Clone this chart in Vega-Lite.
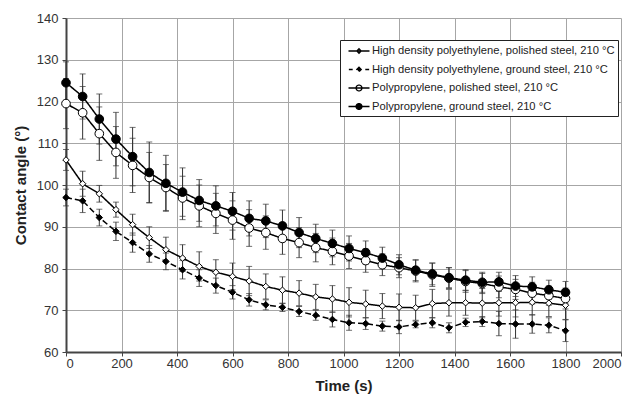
{
  "$schema": "https://vega.github.io/schema/vega-lite/v6.json",
  "width": 555,
  "height": 334,
  "autosize": {"type": "none"},
  "padding": {"left": 66, "top": 18, "right": 19, "bottom": 49},
  "background": "white",
  "config": {
    "view": {"stroke": null},
    "font": "Liberation Sans",
    "axis": {
      "labelFont": "Liberation Sans",
      "labelFontSize": 13,
      "labelColor": "#333",
      "titleFont": "Liberation Sans",
      "titleFontSize": 15,
      "titleFontWeight": "bold",
      "titleColor": "#222",
      "domainColor": "#444",
      "domainWidth": 2,
      "tickColor": "#444",
      "tickSize": 4,
      "gridColor": "#a6a6a6",
      "gridWidth": 1,
      "gridOpacity": 1
    }
  },
  "data": {
    "values": [
      {"t": 0, "s": "hp", "v": 106.0, "e": 2.5}, {"t": 60, "s": "hp", "v": 100.3, "e": 3.0}, {"t": 120, "s": "hp", "v": 97.9, "e": 2.0}, {"t": 180, "s": "hp", "v": 94.1, "e": 1.8}, {"t": 240, "s": "hp", "v": 90.5, "e": 2.5}, {"t": 300, "s": "hp", "v": 87.4, "e": 2.6}, {"t": 360, "s": "hp", "v": 84.5, "e": 3.0}, {"t": 420, "s": "hp", "v": 82.5, "e": 3.2}, {"t": 480, "s": "hp", "v": 80.5, "e": 3.5}, {"t": 540, "s": "hp", "v": 79.1, "e": 3.0}, {"t": 600, "s": "hp", "v": 78.1, "e": 3.2}, {"t": 660, "s": "hp", "v": 77.0, "e": 3.5}, {"t": 720, "s": "hp", "v": 75.7, "e": 3.0}, {"t": 780, "s": "hp", "v": 74.8, "e": 3.2}, {"t": 840, "s": "hp", "v": 74.1, "e": 3.0}, {"t": 900, "s": "hp", "v": 73.2, "e": 3.0}, {"t": 960, "s": "hp", "v": 72.7, "e": 3.2}, {"t": 1020, "s": "hp", "v": 71.9, "e": 3.5}, {"t": 1080, "s": "hp", "v": 71.5, "e": 3.3}, {"t": 1140, "s": "hp", "v": 71.0, "e": 3.0}, {"t": 1200, "s": "hp", "v": 70.7, "e": 3.2}, {"t": 1260, "s": "hp", "v": 70.6, "e": 3.0}, {"t": 1320, "s": "hp", "v": 71.6, "e": 3.4}, {"t": 1380, "s": "hp", "v": 71.8, "e": 3.2}, {"t": 1440, "s": "hp", "v": 71.8, "e": 3.0}, {"t": 1500, "s": "hp", "v": 71.7, "e": 3.5}, {"t": 1560, "s": "hp", "v": 71.8, "e": 3.2}, {"t": 1620, "s": "hp", "v": 71.8, "e": 3.4}, {"t": 1680, "s": "hp", "v": 71.9, "e": 3.0}, {"t": 1740, "s": "hp", "v": 71.7, "e": 3.2}, {"t": 1800, "s": "hp", "v": 71.2, "e": 3.4},
      {"t": 0, "s": "hg", "v": 97.0, "e": 2.0}, {"t": 60, "s": "hg", "v": 96.2, "e": 2.8}, {"t": 120, "s": "hg", "v": 92.2, "e": 2.0}, {"t": 180, "s": "hg", "v": 88.9, "e": 2.2}, {"t": 240, "s": "hg", "v": 86.2, "e": 2.3}, {"t": 300, "s": "hg", "v": 83.5, "e": 2.0}, {"t": 360, "s": "hg", "v": 81.7, "e": 2.0}, {"t": 420, "s": "hg", "v": 79.7, "e": 2.2}, {"t": 480, "s": "hg", "v": 77.7, "e": 2.0}, {"t": 540, "s": "hg", "v": 75.9, "e": 1.8}, {"t": 600, "s": "hg", "v": 74.3, "e": 1.6}, {"t": 660, "s": "hg", "v": 72.5, "e": 1.5}, {"t": 720, "s": "hg", "v": 71.3, "e": 1.2}, {"t": 780, "s": "hg", "v": 70.7, "e": 1.0}, {"t": 840, "s": "hg", "v": 69.7, "e": 1.2}, {"t": 900, "s": "hg", "v": 68.8, "e": 1.2}, {"t": 960, "s": "hg", "v": 67.8, "e": 1.8}, {"t": 1020, "s": "hg", "v": 67.0, "e": 1.8}, {"t": 1080, "s": "hg", "v": 66.8, "e": 1.4}, {"t": 1140, "s": "hg", "v": 66.2, "e": 1.2}, {"t": 1200, "s": "hg", "v": 66.0, "e": 1.6}, {"t": 1260, "s": "hg", "v": 66.6, "e": 0.8}, {"t": 1320, "s": "hg", "v": 67.0, "e": 1.2}, {"t": 1380, "s": "hg", "v": 65.8, "e": 1.2}, {"t": 1440, "s": "hg", "v": 67.1, "e": 1.0}, {"t": 1500, "s": "hg", "v": 67.3, "e": 1.2}, {"t": 1560, "s": "hg", "v": 66.8, "e": 2.9}, {"t": 1620, "s": "hg", "v": 66.7, "e": 3.4}, {"t": 1680, "s": "hg", "v": 66.7, "e": 2.2}, {"t": 1740, "s": "hg", "v": 66.4, "e": 1.8}, {"t": 1800, "s": "hg", "v": 65.1, "e": 2.6},
      {"t": 0, "s": "pp", "v": 119.5, "e": 6.0}, {"t": 60, "s": "pp", "v": 117.3, "e": 6.3}, {"t": 120, "s": "pp", "v": 112.3, "e": 6.4}, {"t": 180, "s": "pp", "v": 107.8, "e": 6.2}, {"t": 240, "s": "pp", "v": 104.7, "e": 6.5}, {"t": 300, "s": "pp", "v": 101.8, "e": 6.0}, {"t": 360, "s": "pp", "v": 99.4, "e": 5.5}, {"t": 420, "s": "pp", "v": 96.9, "e": 5.2}, {"t": 480, "s": "pp", "v": 95.0, "e": 5.0}, {"t": 540, "s": "pp", "v": 93.2, "e": 4.8}, {"t": 600, "s": "pp", "v": 91.6, "e": 4.6}, {"t": 660, "s": "pp", "v": 89.7, "e": 4.4}, {"t": 720, "s": "pp", "v": 88.6, "e": 4.0}, {"t": 780, "s": "pp", "v": 87.2, "e": 3.8}, {"t": 840, "s": "pp", "v": 86.2, "e": 3.6}, {"t": 900, "s": "pp", "v": 85.0, "e": 3.4}, {"t": 960, "s": "pp", "v": 84.1, "e": 3.2}, {"t": 1020, "s": "pp", "v": 83.0, "e": 3.0}, {"t": 1080, "s": "pp", "v": 81.9, "e": 2.8}, {"t": 1140, "s": "pp", "v": 80.9, "e": 2.6}, {"t": 1200, "s": "pp", "v": 80.2, "e": 2.4}, {"t": 1260, "s": "pp", "v": 79.4, "e": 2.6}, {"t": 1320, "s": "pp", "v": 78.5, "e": 2.8}, {"t": 1380, "s": "pp", "v": 77.7, "e": 2.5}, {"t": 1440, "s": "pp", "v": 76.9, "e": 2.6}, {"t": 1500, "s": "pp", "v": 76.4, "e": 2.4}, {"t": 1560, "s": "pp", "v": 75.6, "e": 2.6}, {"t": 1620, "s": "pp", "v": 75.0, "e": 2.4}, {"t": 1680, "s": "pp", "v": 74.1, "e": 2.6}, {"t": 1740, "s": "pp", "v": 73.5, "e": 2.3}, {"t": 1800, "s": "pp", "v": 72.8, "e": 2.5},
      {"t": 0, "s": "pg", "v": 124.5, "e": 5.0}, {"t": 60, "s": "pg", "v": 121.2, "e": 5.4}, {"t": 120, "s": "pg", "v": 115.8, "e": 6.0}, {"t": 180, "s": "pg", "v": 111.0, "e": 6.4}, {"t": 240, "s": "pg", "v": 106.8, "e": 7.0}, {"t": 300, "s": "pg", "v": 103.0, "e": 7.3}, {"t": 360, "s": "pg", "v": 100.4, "e": 6.7}, {"t": 420, "s": "pg", "v": 98.3, "e": 5.8}, {"t": 480, "s": "pg", "v": 96.3, "e": 5.0}, {"t": 540, "s": "pg", "v": 95.0, "e": 4.8}, {"t": 600, "s": "pg", "v": 93.7, "e": 4.5}, {"t": 660, "s": "pg", "v": 92.0, "e": 4.2}, {"t": 720, "s": "pg", "v": 91.4, "e": 4.0}, {"t": 780, "s": "pg", "v": 90.2, "e": 3.8}, {"t": 840, "s": "pg", "v": 88.6, "e": 3.6}, {"t": 900, "s": "pg", "v": 87.2, "e": 3.4}, {"t": 960, "s": "pg", "v": 86.0, "e": 3.2}, {"t": 1020, "s": "pg", "v": 84.8, "e": 3.0}, {"t": 1080, "s": "pg", "v": 83.8, "e": 2.8}, {"t": 1140, "s": "pg", "v": 82.5, "e": 2.6}, {"t": 1200, "s": "pg", "v": 80.9, "e": 2.4}, {"t": 1260, "s": "pg", "v": 79.6, "e": 2.5}, {"t": 1320, "s": "pg", "v": 78.7, "e": 2.6}, {"t": 1380, "s": "pg", "v": 77.8, "e": 2.4}, {"t": 1440, "s": "pg", "v": 77.2, "e": 2.5}, {"t": 1500, "s": "pg", "v": 76.7, "e": 2.4}, {"t": 1560, "s": "pg", "v": 76.8, "e": 2.3}, {"t": 1620, "s": "pg", "v": 75.8, "e": 2.5}, {"t": 1680, "s": "pg", "v": 75.6, "e": 2.4}, {"t": 1740, "s": "pg", "v": 74.9, "e": 2.3}, {"t": 1800, "s": "pg", "v": 74.3, "e": 2.6}
    ]
  },
  "encoding": {
    "x": {
      "field": "t",
      "type": "quantitative",
      "title": "Time (s)",
      "scale": {"domain": [0, 2000], "nice": false},
      "axis": {"values": [0, 200, 400, 600, 800, 1000, 1200, 1400, 1600, 1800, 2000], "format": "d", "labelPadding": 1, "titlePadding": 8}
    },
    "y": {
      "field": "v",
      "type": "quantitative",
      "title": "Contact angle (°)",
      "scale": {"domain": [60, 140], "nice": false, "zero": false},
      "axis": {"values": [60, 70, 80, 90, 100, 110, 120, 130, 140], "format": "d", "labelPadding": 4, "titlePadding": 8}
    }
  },
  "layer": [
    {
      "mark": {"type": "errorbar", "ticks": {"size": 6, "color": "#333"}, "rule": {"color": "#333", "strokeWidth": 1}},
      "encoding": {
        "y": {"field": "v", "type": "quantitative"},
        "yError": {"field": "e"},
        "detail": {"field": "s"}
      }
    },
    {
      "mark": {"type": "line", "color": "black", "strokeWidth": 1.5},
      "encoding": {
        "detail": {"field": "s"},
        "strokeDash": {
          "field": "s",
          "type": "nominal",
          "scale": {"domain": ["hp", "hg", "pp", "pg"], "range": [[1, 0], [6, 3], [1, 0], [1, 0]]},
          "legend": {
            "title": null,
            "orient": "none",
            "legendX": 274,
            "legendY": 22,
            "padding": 3,
            "strokeColor": "#222",
            "fillColor": "white",
            "rowPadding": 4.5,
            "symbolSize": 196,
            "symbolOffset": 8,
            "symbolStrokeWidth": 1.3,
            "symbolStrokeColor": "black",
            "labelOffset": 5,
            "labelFont": "Liberation Sans",
            "labelFontSize": 11.2,
            "labelColor": "#222",
            "labelLimit": 400,
            "labelExpr": "{'hp': 'High density polyethylene, polished steel, 210 °C', 'hg': 'High density polyethylene, ground steel, 210 °C', 'pp': 'Polypropylene, polished steel, 210 °C', 'pg': 'Polypropylene, ground steel, 210 °C'}[datum.value]",
            "encode": {
              "symbols": {
                "update": {
                  "shape": {"signal": "datum.value == 'hp' ? 'M-1.5,0L1.5,0M0,-0.32L0.32,0L0,0.32L-0.32,0Z' : datum.value == 'hg' ? 'M-1.45,0L-0.9,0M0.9,0L1.45,0M0,-0.32L0.32,0L0,0.32L-0.32,0Z' : 'M-1.5,0L1.5,0M-0.42,0A0.42,0.42 0 1,0 0.42,0A0.42,0.42 0 1,0 -0.42,0Z'"},
                  "fill": {"signal": "(datum.value == 'hg' || datum.value == 'pg') ? 'black' : 'white'"},
                  "stroke": {"value": "black"},
                  "strokeDash": {"value": []}
                }
              }
            }
          }
        }
      }
    },
    {
      "transform": [{"filter": "datum.s == 'hp'"}],
      "mark": {"type": "point", "shape": "diamond", "size": 42, "filled": true, "fill": "white", "stroke": "black", "strokeWidth": 1, "opacity": 1}
    },
    {
      "transform": [{"filter": "datum.s == 'hg'"}],
      "mark": {"type": "point", "shape": "diamond", "size": 42, "filled": true, "fill": "black", "stroke": "black", "strokeWidth": 1, "opacity": 1}
    },
    {
      "transform": [{"filter": "datum.s == 'pp'"}],
      "mark": {"type": "point", "shape": "circle", "size": 75, "filled": true, "fill": "white", "stroke": "black", "strokeWidth": 1, "opacity": 1}
    },
    {
      "transform": [{"filter": "datum.s == 'pg'"}],
      "mark": {"type": "point", "shape": "circle", "size": 75, "filled": true, "fill": "black", "stroke": "black", "strokeWidth": 1, "opacity": 1}
    }
  ]
}
